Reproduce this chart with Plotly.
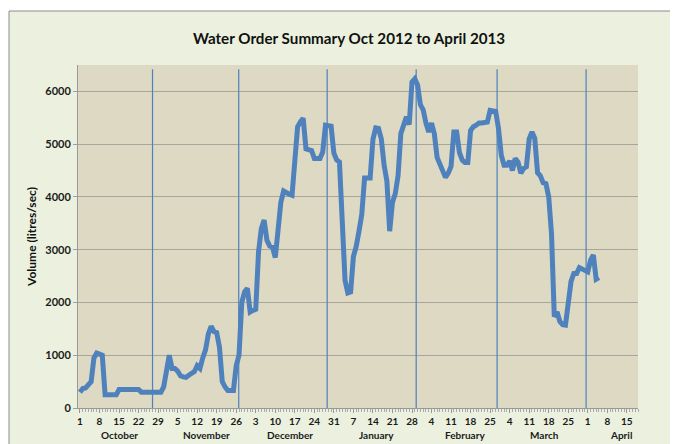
import pandas as pd
import plotly.graph_objects as go

# ---- data (daily water orders, litres/sec) ----
start_date = "2012-10-01"
volumes = [
    300, 370, 380, 450, 500, 950, 1040, 1020, 1000, 250,      # Oct 1-10
    250, 250, 250, 250, 350, 350, 350, 350, 350, 350,         # Oct 11-20
    350, 350, 300, 300, 300, 300, 300, 300, 300, 300,         # Oct 21-30
    400, 700, 1000, 750, 750, 700, 610, 590, 580, 620,        # Oct 31-Nov 9
    650, 690, 800, 750, 950, 1100, 1400, 1550, 1450, 1430,    # Nov 10-19
    1150, 500, 400, 330, 330, 330, 800, 1000, 2000, 2200,     # Nov 20-29
    2270, 1820, 1850, 1870, 2960, 3400, 3560, 3180, 3070, 3050,  # Nov 30-Dec 9
    2850, 3370, 3900, 4110, 4070, 4050, 4030, 4570, 5330, 5420,  # Dec 10-19
    5490, 4910, 4900, 4880, 4730, 4730, 4730, 4850, 5360, 5350,  # Dec 20-29
    5340, 4830, 4700, 4660, 3560, 2420, 2180, 2200, 2870, 3060,  # Dec 30-Jan 8
    3350, 3670, 4360, 4360, 4360, 5090, 5310, 5300, 5100, 4600,  # Jan 9-18
    4300, 3350, 3900, 4060, 4400, 5200, 5370, 5520, 5370, 6180,  # Jan 19-28
    6240, 6120, 5750, 5650, 5400, 5230, 5400, 5200, 4750, 4600,  # Jan 29-Feb 7
    4480, 4370, 4450, 4580, 5230, 5230, 4840, 4700, 4650, 4650,  # Feb 8-17
    5260, 5330, 5360, 5400, 5400, 5400, 5420, 5640, 5640, 5620,  # Feb 18-27
    5300, 4790, 4600, 4600, 4680, 4500, 4730, 4660, 4450, 4540,  # Feb 28-Mar 9
    4570, 5100, 5230, 5110, 4460, 4400, 4270, 4250, 4000, 3300,  # Mar 10-19
    1730, 1820, 1640, 1580, 1570, 2000, 2400, 2550, 2550, 2660,  # Mar 20-29
    2630, 2610, 2580, 2800, 2900, 2440, 2470,                    # Mar 30-Apr 5
]
dates = pd.date_range(start_date, periods=len(volumes), freq="D")

# weekly tick positions and their day labels
tick_dates = pd.date_range("2012-10-01", "2013-04-15", freq="7D")
tick_labels = [str(d.day) for d in tick_dates]

# month labels and where they are centred
month_names = ["October", "November", "December", "January", "February", "March", "April"]
month_centres = ["2012-10-15", "2012-11-15 10:00", "2012-12-15 08:00", "2013-01-15 10:00",
                 "2013-02-15 20:00", "2013-03-16 14:00", "2013-04-13"]

# vertical blue marker lines
marker_dates = ["2012-10-27 00:00", "2012-11-26 21:36", "2012-12-28 14:24",
                "2013-01-29 12:00", "2013-02-27 12:00", "2013-03-31 09:36"]

x_range = [pd.Timestamp("2012-10-01") - pd.Timedelta(hours=17),
           pd.Timestamp("2012-10-01") + pd.Timedelta(days=200)]

FONT = "Lato"
LINE_BLUE = "#4F81BD"
BOX_GREEN = "#EBF1DE"

fig = go.Figure()
fig.add_trace(go.Scatter(
    x=dates, y=volumes, mode="lines",
    line=dict(color=LINE_BLUE, width=5),
    showlegend=False, hoverinfo="x+y",
))

BX, BY = -0.1232, 1.1574   # chart-box left / top edges in paper units
shapes = [
    # white page strips above and left of the chart box
    dict(type="rect", xref="paper", yref="paper", x0=-0.5, x1=1.5, y0=BY, y1=1.6,
         fillcolor="white", line=dict(width=0), layer="below"),
    dict(type="rect", xref="paper", yref="paper", x0=-0.5, x1=BX, y0=-0.5, y1=BY,
         fillcolor="white", line=dict(width=0), layer="below"),
    # grey border of the chart box
    dict(type="line", xref="paper", yref="paper", x0=BX, x1=1.5, y0=BY, y1=BY,
         line=dict(color="#8C8C8C", width=1), layer="below"),
    dict(type="line", xref="paper", yref="paper", x0=BX, x1=BX, y0=-0.5, y1=BY,
         line=dict(color="#8C8C8C", width=1), layer="below"),
]
for d in marker_dates:
    shapes.append(dict(type="line", xref="x", yref="y", x0=d, x1=d, y0=0, y1=6420,
                       line=dict(color=LINE_BLUE, width=1.2), layer="between"))

annotations = []
for name, c in zip(month_names, month_centres):
    annotations.append(dict(text=name, x=c, xref="x", y=-0.0787, yref="paper",
                            showarrow=False, yanchor="middle", xanchor="center",
                            font=dict(family=FONT, size=10, color="#1a1a1a", weight="bold")))

# the page body adds an 8px offset, so the figure is drawn 8px smaller
fig.update_layout(
    width=670, height=436,
    margin=dict(l=70, r=40, t=57, b=36),
    paper_bgcolor=BOX_GREEN,
    plot_bgcolor="#DDD9C3",
    title=dict(text="Water Order Summary Oct 2012 to April 2013",
               x=0.509, xanchor="center", y=0.929, yanchor="middle", yref="container",
               font=dict(family=FONT, size=15.2, color="#111111", weight="bold")),
    shapes=shapes,
    annotations=annotations,
    xaxis=dict(
        type="date", range=x_range,
        tickmode="array", tickvals=tick_dates, ticktext=tick_labels,
        ticks="outside", ticklen=4, tickcolor="#999999",
        tickfont=dict(family=FONT, size=10, color="#1a1a1a", weight="bold"),
        showgrid=False, showline=True, linecolor="#999999", linewidth=1,
        minor=dict(dtick=86400000, ticks="outside", ticklen=3, tickcolor="#aaaaaa", showgrid=False),
        zeroline=False,
    ),
    yaxis=dict(
        range=[0, 6500], tickmode="array", tickvals=[0, 1000, 2000, 3000, 4000, 5000, 6000],
        ticks="outside", ticklen=4, tickcolor="#A09E94",
        tickfont=dict(family=FONT, size=11, color="#1a1a1a", weight="bold"),
        showgrid=True, gridcolor="#A8A69C", gridwidth=1,
        showline=True, linecolor="#999999", linewidth=1, zeroline=False,
        title=dict(text="Volume (litres/sec)", standoff=6,
                   font=dict(family=FONT, size=12, color="#111111", weight="bold")),
    ),
)

fig.write_html("out.html")
